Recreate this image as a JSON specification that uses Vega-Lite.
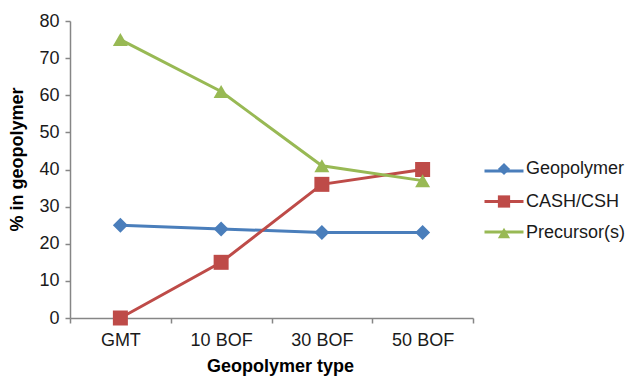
{
  "$schema": "https://vega.github.io/schema/vega-lite/v6.json",
  "autosize": "none",
  "width": 403,
  "height": 297,
  "padding": {"left": 70, "top": 21, "right": 157, "bottom": 61},
  "background": "white",
  "config": {
    "font": "Liberation Sans",
    "view": {"stroke": null},
    "axis": {
      "grid": false,
      "domainColor": "#868686",
      "tickColor": "#868686",
      "domainWidth": 1.5,
      "tickWidth": 1.5,
      "labelFont": "Liberation Sans",
      "labelFontSize": 18,
      "labelColor": "#1a1a1a",
      "titleFont": "Liberation Sans",
      "titleFontSize": 18,
      "titleFontWeight": "bold",
      "titleColor": "#000000"
    },
    "legend": {
      "labelFont": "Liberation Sans",
      "labelFontSize": 18,
      "labelColor": "#1a1a1a",
      "padding": 0
    }
  },
  "data": {
    "values": [
      {"type": "GMT", "phase": "Geopolymer", "series": "Geopolymer", "pct": 25},
      {"type": "10 BOF", "phase": "Geopolymer", "series": "Geopolymer", "pct": 24},
      {"type": "30 BOF", "phase": "Geopolymer", "series": "Geopolymer", "pct": 23},
      {"type": "50 BOF", "phase": "Geopolymer", "series": "Geopolymer", "pct": 23},
      {"type": "GMT", "phase": "CASH/CSH", "series": "CASH/CSH", "pct": 0},
      {"type": "10 BOF", "phase": "CASH/CSH", "series": "CASH/CSH", "pct": 15},
      {"type": "30 BOF", "phase": "CASH/CSH", "series": "CASH/CSH", "pct": 36},
      {"type": "50 BOF", "phase": "CASH/CSH", "series": "CASH/CSH", "pct": 40},
      {"type": "GMT", "phase": "Precursor(s)", "series": "Precursor(s)", "pct": 75},
      {"type": "10 BOF", "phase": "Precursor(s)", "series": "Precursor(s)", "pct": 61},
      {"type": "30 BOF", "phase": "Precursor(s)", "series": "Precursor(s)", "pct": 41},
      {"type": "50 BOF", "phase": "Precursor(s)", "series": "Precursor(s)", "pct": 37}
    ]
  },
  "encoding": {
    "x": {
      "field": "type",
      "type": "nominal",
      "sort": ["GMT", "10 BOF", "30 BOF", "50 BOF"],
      "scale": {"type": "band", "paddingInner": 0, "paddingOuter": 0},
      "axis": {"labelAngle": 0, "tickBand": "extent", "tickSize": 5, "labelPadding": 8, "title": "Geopolymer type", "titlePadding": 8, "titleX": 210}
    },
    "y": {
      "field": "pct",
      "type": "quantitative",
      "scale": {"domain": [0, 80], "nice": false},
      "axis": {"values": [0, 10, 20, 30, 40, 50, 60, 70, 80], "labelOverlap": false, "tickSize": 5, "labelPadding": 6, "title": "% in geopolymer", "titlePadding": 12, "titleY": 138}
    }
  },
  "layer": [
    {
      "mark": {"type": "line", "strokeWidth": 3},
      "encoding": {
        "color": {
          "field": "series",
          "type": "nominal",
          "sort": ["Geopolymer", "CASH/CSH", "Precursor(s)"],
          "scale": {"range": ["#4A7EBB", "#BE4B48", "#98B954"]},
          "legend": {
            "orient": "none",
            "legendX": 413,
            "legendY": 129,
            "title": null,
            "symbolType": "stroke",
            "symbolSize": 1521,
            "symbolStrokeWidth": 3,
            "labelOpacity": 0,
            "labelFontSize": 1,
            "rowPadding": 3.5
          }
        }
      }
    },
    {
      "mark": {"type": "point", "filled": true, "size": 225, "opacity": 1},
      "encoding": {
        "fill": {
          "field": "phase",
          "type": "nominal",
          "scale": {"domain": ["Geopolymer", "CASH/CSH", "Precursor(s)"], "range": ["#4A7EBB", "#BE4B48", "#98B954"]},
          "legend": {
            "orient": "none",
            "legendX": 425,
            "legendY": 139,
            "title": null,
            "symbolSize": 150,
            "symbolOpacity": 1,
            "labelOffset": 13,
            "rowPadding": 12.5
          }
        },
        "shape": {
          "field": "phase",
          "type": "nominal",
          "scale": {"domain": ["Geopolymer", "CASH/CSH", "Precursor(s)"], "range": ["diamond", "square", "triangle-up"]},
          "legend": {
            "orient": "none",
            "legendX": 425,
            "legendY": 139,
            "title": null,
            "symbolSize": 150,
            "symbolOpacity": 1,
            "labelOffset": 13,
            "rowPadding": 12.5
          }
        }
      }
    }
  ]
}
